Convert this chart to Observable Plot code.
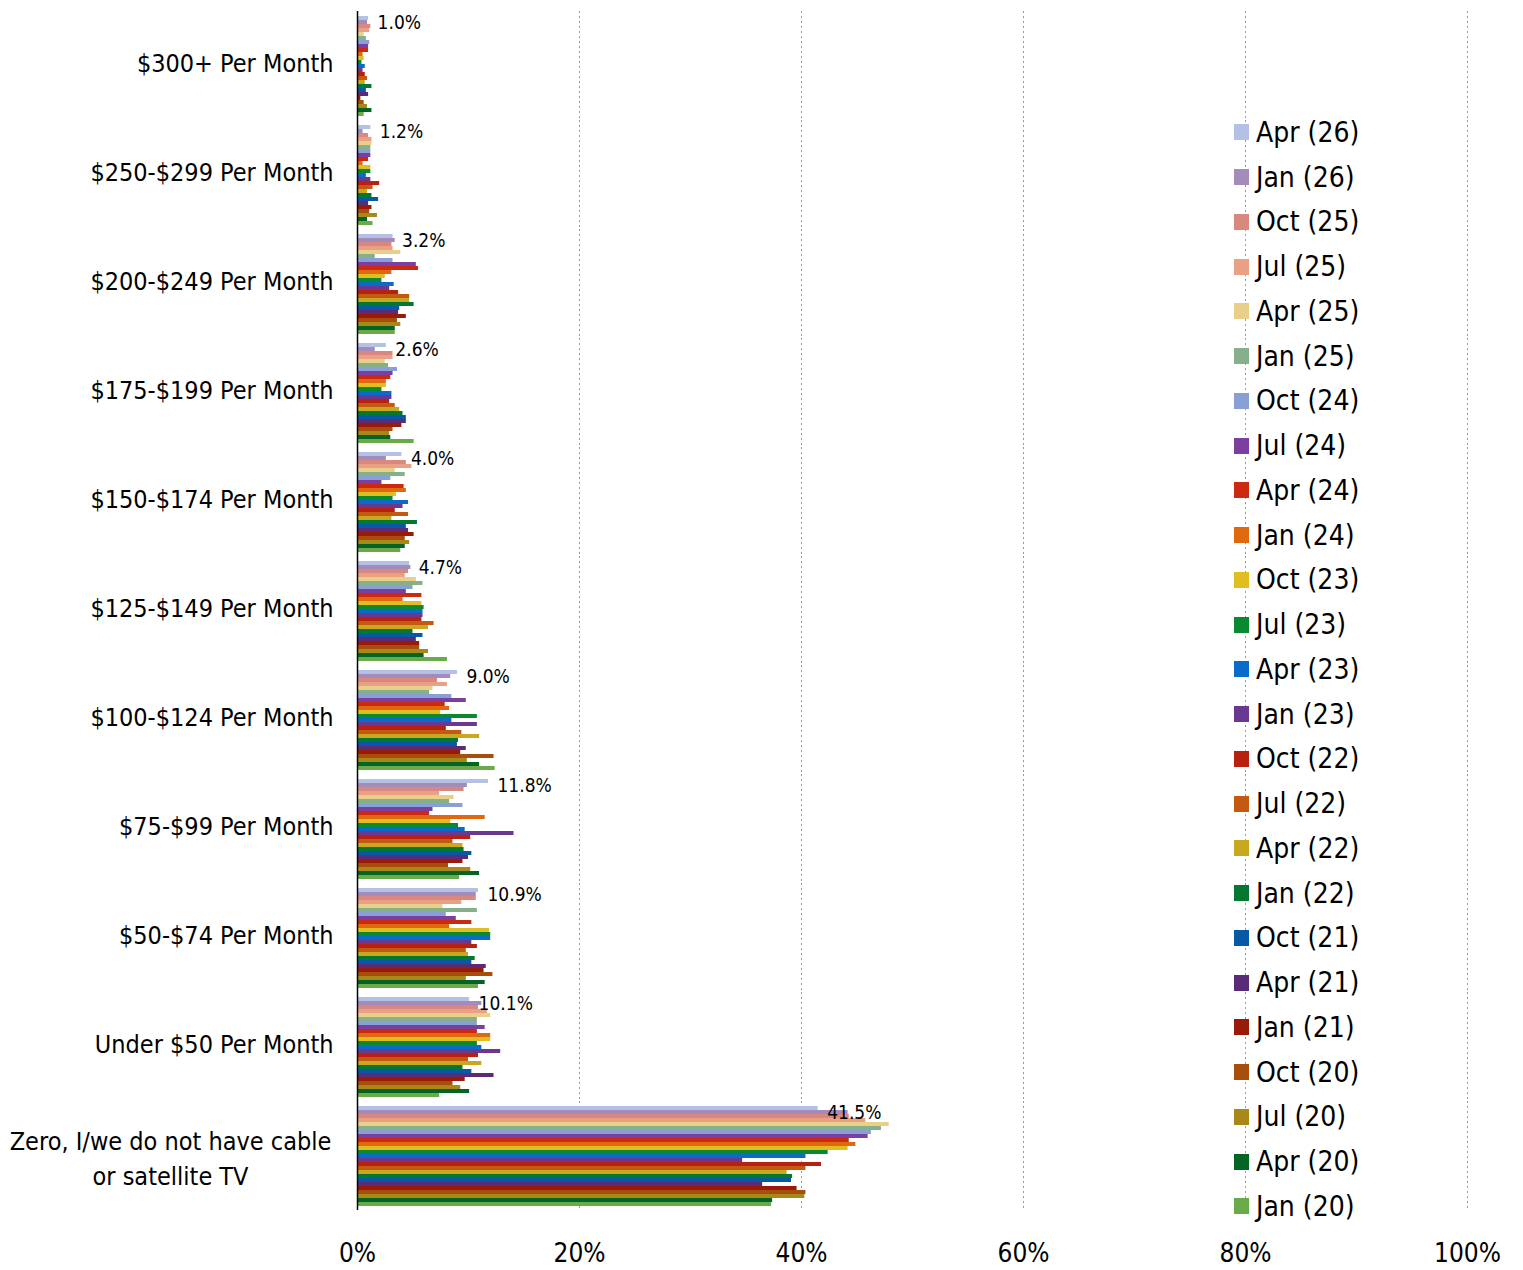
<!DOCTYPE html>
<html><head><meta charset="utf-8">
<script src="https://cdn.jsdelivr.net/npm/d3@7"></script>
<script src="https://cdn.jsdelivr.net/npm/@observablehq/plot@0.6"></script>
<style>
body{margin:0;background:#fff;font-family:"DejaVu Sans Condensed","DejaVu Sans",sans-serif;}
#wrap{position:relative;width:1523px;height:1270px;}
#legend{position:absolute;left:1234px;top:110px;}
.item{height:44.75px;display:flex;align-items:center;font-size:28px;color:#000;}
.sw{width:15px;height:16px;margin-right:7px;flex:none;}
</style></head><body>
<div id="wrap"><div id="chart"></div><div id="legend"></div></div>
<script>
const categories = ["$300+ Per Month","$250-$299 Per Month","$200-$249 Per Month","$175-$199 Per Month","$150-$174 Per Month","$125-$149 Per Month","$100-$124 Per Month","$75-$99 Per Month","$50-$74 Per Month","Under $50 Per Month","Zero, I/we do not have cable\nor satellite TV"];
const series = ["Apr (26)","Jan (26)","Oct (25)","Jul (25)","Apr (25)","Jan (25)","Oct (24)","Jul (24)","Apr (24)","Jan (24)","Oct (23)","Jul (23)","Apr (23)","Jan (23)","Oct (22)","Jul (22)","Apr (22)","Jan (22)","Oct (21)","Apr (21)","Jan (21)","Oct (20)","Jul (20)","Apr (20)","Jan (20)"];
const colors = ["#b4c0e4","#a48cba","#d98880","#e9a084","#e8d08a","#86b08a","#89a0d6","#7a3fa0","#cc2a10","#e0680f","#e0be22","#0a8a30","#0b6bc8","#6a3890","#b82010","#c45a10","#c8a820","#037830","#0858a8","#5a2c78","#9a1a08","#a84e0c","#a88818","#046424","#6aaa48"];
const xTicks = [0,20,40,60,80,100];

const v300plus = [1.0,0.9,1.2,1.1,0.6,0.8,1.1,1.0,1.0,0.5,0.6,0.4,0.7,0.5,0.7,0.9,0.7,1.3,0.8,1.0,0.3,0.6,0.9,1.3,0.6];
const v250 = [1.2,0.5,1.0,1.3,1.3,1.2,1.2,1.2,1.0,0.5,1.2,1.2,0.8,1.2,2.0,1.4,0.9,1.3,1.9,1.0,1.3,1.1,1.8,0.9,1.4];
const v200 = [3.2,3.4,3.1,3.2,3.9,1.6,3.2,5.3,5.5,3.1,2.5,2.2,3.3,2.9,3.7,4.7,4.7,5.1,3.8,3.7,4.4,3.6,3.9,3.4,3.4];
const v175 = [2.6,1.6,3.2,3.2,2.5,2.8,3.6,3.2,3.0,2.6,2.6,2.2,3.1,3.1,2.9,3.4,3.8,4.1,4.4,4.4,4.0,3.2,2.9,3.0,5.1];
const v150 = [4.0,2.6,4.4,4.9,3.4,4.3,3.0,2.2,4.2,4.4,3.5,3.2,4.6,4.1,3.4,4.6,3.1,5.4,4.4,4.6,5.1,4.3,4.7,4.3,3.9];
const v125 = [4.7,4.8,4.6,4.3,5.3,5.9,5.0,4.4,5.8,4.1,5.8,6.0,5.9,5.9,5.8,6.9,6.4,5.0,5.9,5.3,5.6,5.6,6.4,6.0,8.1];
const v100 = [9.0,8.4,7.2,8.1,6.8,6.5,8.5,9.8,7.9,8.3,7.5,10.8,8.5,10.8,8.0,9.4,11.0,9.1,9.0,9.8,9.3,12.3,9.9,11.0,12.4];
const v75 = [11.8,9.9,9.6,7.4,8.7,8.3,9.5,6.8,6.5,11.5,8.4,9.1,9.7,14.1,10.2,8.6,9.5,9.6,10.3,10.0,9.5,8.2,10.2,11.0,9.2];
const v50 = [10.9,10.7,10.7,9.4,7.7,10.8,8.0,8.9,10.3,8.3,11.9,12.0,12.0,10.3,10.8,9.8,10.0,10.6,10.3,11.6,11.4,12.2,9.8,11.5,10.9];
const vUnder50 = [10.1,11.2,10.9,11.7,12.0,10.8,10.8,11.5,10.8,12.0,12.0,10.8,11.2,12.9,10.9,10.0,11.2,9.5,10.3,12.3,9.7,8.6,9.3,10.1,7.4];
const vZero = [41.5,44.2,44.3,45.8,47.9,47.2,46.3,46.0,44.3,44.9,44.2,42.4,40.4,34.7,41.8,40.4,38.7,39.2,39.1,36.5,39.6,40.4,40.3,37.4,37.3];

const values = [v300plus,v250,v200,v175,v150,v125,v100,v75,v50,vUnder50,vZero];
const rows = categories.flatMap((c,i)=>series.map((s,j)=>({category:c, series:s, value:values[i][j]})));
const firstLabels = categories.map((c,i)=>({category:c, series:series[0], value:values[i][0]}));
const zeroCat = categories[categories.length-1];
const font = '"DejaVu Sans Condensed","DejaVu Sans",sans-serif';

const chart = Plot.plot({
  width:1523, height:1270,
  marginLeft:357, marginRight:56, marginTop:8, marginBottom:58,
  style:{fontFamily:font, fontSize:"26px", color:"#000", background:"#fff", overflow:"visible"},
  x:{domain:[0,100], axis:null, label:null},
  y:{domain:series, axis:null, paddingInner:0, paddingOuter:0.45},
  fy:{domain:categories, axis:null, padding:0},
  color:{domain:series, range:colors},
  marks:[
    Plot.gridX(xTicks.slice(1), {stroke:"#999", strokeOpacity:1, strokeDasharray:"2,3"}),
    Plot.barX(rows, {x:"value", y:"series", fy:"category", fill:"series"}),
    Plot.ruleX([0], {stroke:"#000", strokeWidth:1.5}),
    Plot.text(firstLabels, {x:"value", y:"series", fy:"category", text:d=>d.value.toFixed(1)+"%", dx:9, dy:4, textAnchor:"start", fontSize:19, fill:"#000"}),
    Plot.text(categories.filter(c=>c!==zeroCat), {fy:d=>d, frameAnchor:"left", dx:-24, dy:-2, textAnchor:"end", text:d=>d, fontSize:25, fill:"#000"}),
    Plot.text([zeroCat], {fy:d=>d, frameAnchor:"left", dx:-187, textAnchor:"middle", text:d=>d, fontSize:25, lineHeight:1.4, fill:"#000"}),
    Plot.axisX(xTicks, {anchor:"bottom", tickSize:0, tickPadding:33, tickFormat:d=>d+"%", fontSize:26, fill:"#000", label:null})
  ]
});
document.getElementById("chart").appendChild(chart);

const leg = document.getElementById("legend");
series.forEach((s,i)=>{
  const it = document.createElement("div"); it.className="item";
  const sw = document.createElement("div"); sw.className="sw"; sw.style.background=colors[i];
  const t = document.createElement("span"); t.textContent=s;
  it.appendChild(sw); it.appendChild(t); leg.appendChild(it);
});
</script>
</body></html>
